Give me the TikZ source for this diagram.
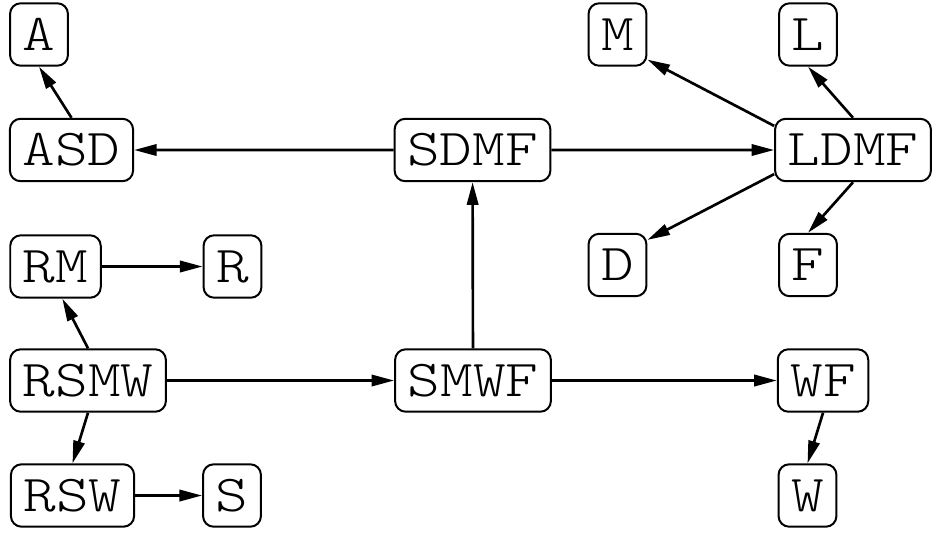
\documentclass[tikz,border=0pt]{standalone}
\usepackage{fontspec}
\setmonofont{Latin Modern Mono Light}[FakeStretch=1.2]
\usetikzlibrary{arrows.meta}
\begin{document}
\begin{tikzpicture}[scale=0.2646]
\tikzstyle{every node}+=[font=\ttfamily\fontsize{39}{39}\selectfont]
\tikzstyle{mod}=[draw=black, line width=1.5pt, rounded corners=8pt, inner xsep=9.5pt, inner ysep=0pt, minimum height=47pt]
\tikzstyle{dep}=[black, line width=2pt, -{Triangle[length=17pt,width=8.5pt]}]
\useasboundingbox (0,0) rectangle (93.2,-53.6);
\node [mod] (A) at (3.9,-3.45) {A};
\node [mod] (ASD) at (7.15,-15) {ASD};
\node [mod] (SDMF) at (47.25,-15) {SDMF};
\node [mod] (LDMF) at (85.3,-15) {LDMF};
\node [mod] (M) at (61.75,-3.45) {M};
\node [mod] (L) at (80.8,-3.45) {L};
\node [mod] (D) at (61.75,-26.5) {D};
\node [mod] (F) at (80.8,-26.5) {F};
\node [mod] (RM) at (5.55,-26.65) {RM};
\node [mod] (R) at (23.25,-26.65) {R};
\node [mod] (RSMW) at (8.8,-38.05) {RSMW};
\node [mod] (SMWF) at (47.3,-38.05) {SMWF};
\node [mod] (WF) at (82.3,-38.05) {WF};
\node [mod] (RSW) at (7.25,-49.55) {RSW};
\node [mod] (S) at (23.2,-49.55) {S};
\node [mod] (W) at (80.75,-49.55) {W};
\draw [dep] (ASD.north) -- (A.south);
\draw [dep] (SDMF) -- (ASD);
\draw [dep] (SDMF) -- (LDMF);
\draw [dep] (SMWF) -- (SDMF);
\draw [dep] (LDMF.163) -- (M.-40);
\draw [dep] (LDMF.north) -- (L.south);
\draw [dep] (LDMF.197) -- (D.40);
\draw [dep] (LDMF.south) -- (F.north);
\draw [dep] (RM) -- (R);
\draw [dep] (RSMW.north) -- (RM.-78);
\draw [dep] (RSMW) -- (SMWF);
\draw [dep] (RSMW.south) -- (RSW.north);
\draw [dep] (RSW) -- (S);
\draw [dep] (SMWF) -- (WF);
\draw [dep] (WF.south) -- (W.north);
\end{tikzpicture}
\end{document}
